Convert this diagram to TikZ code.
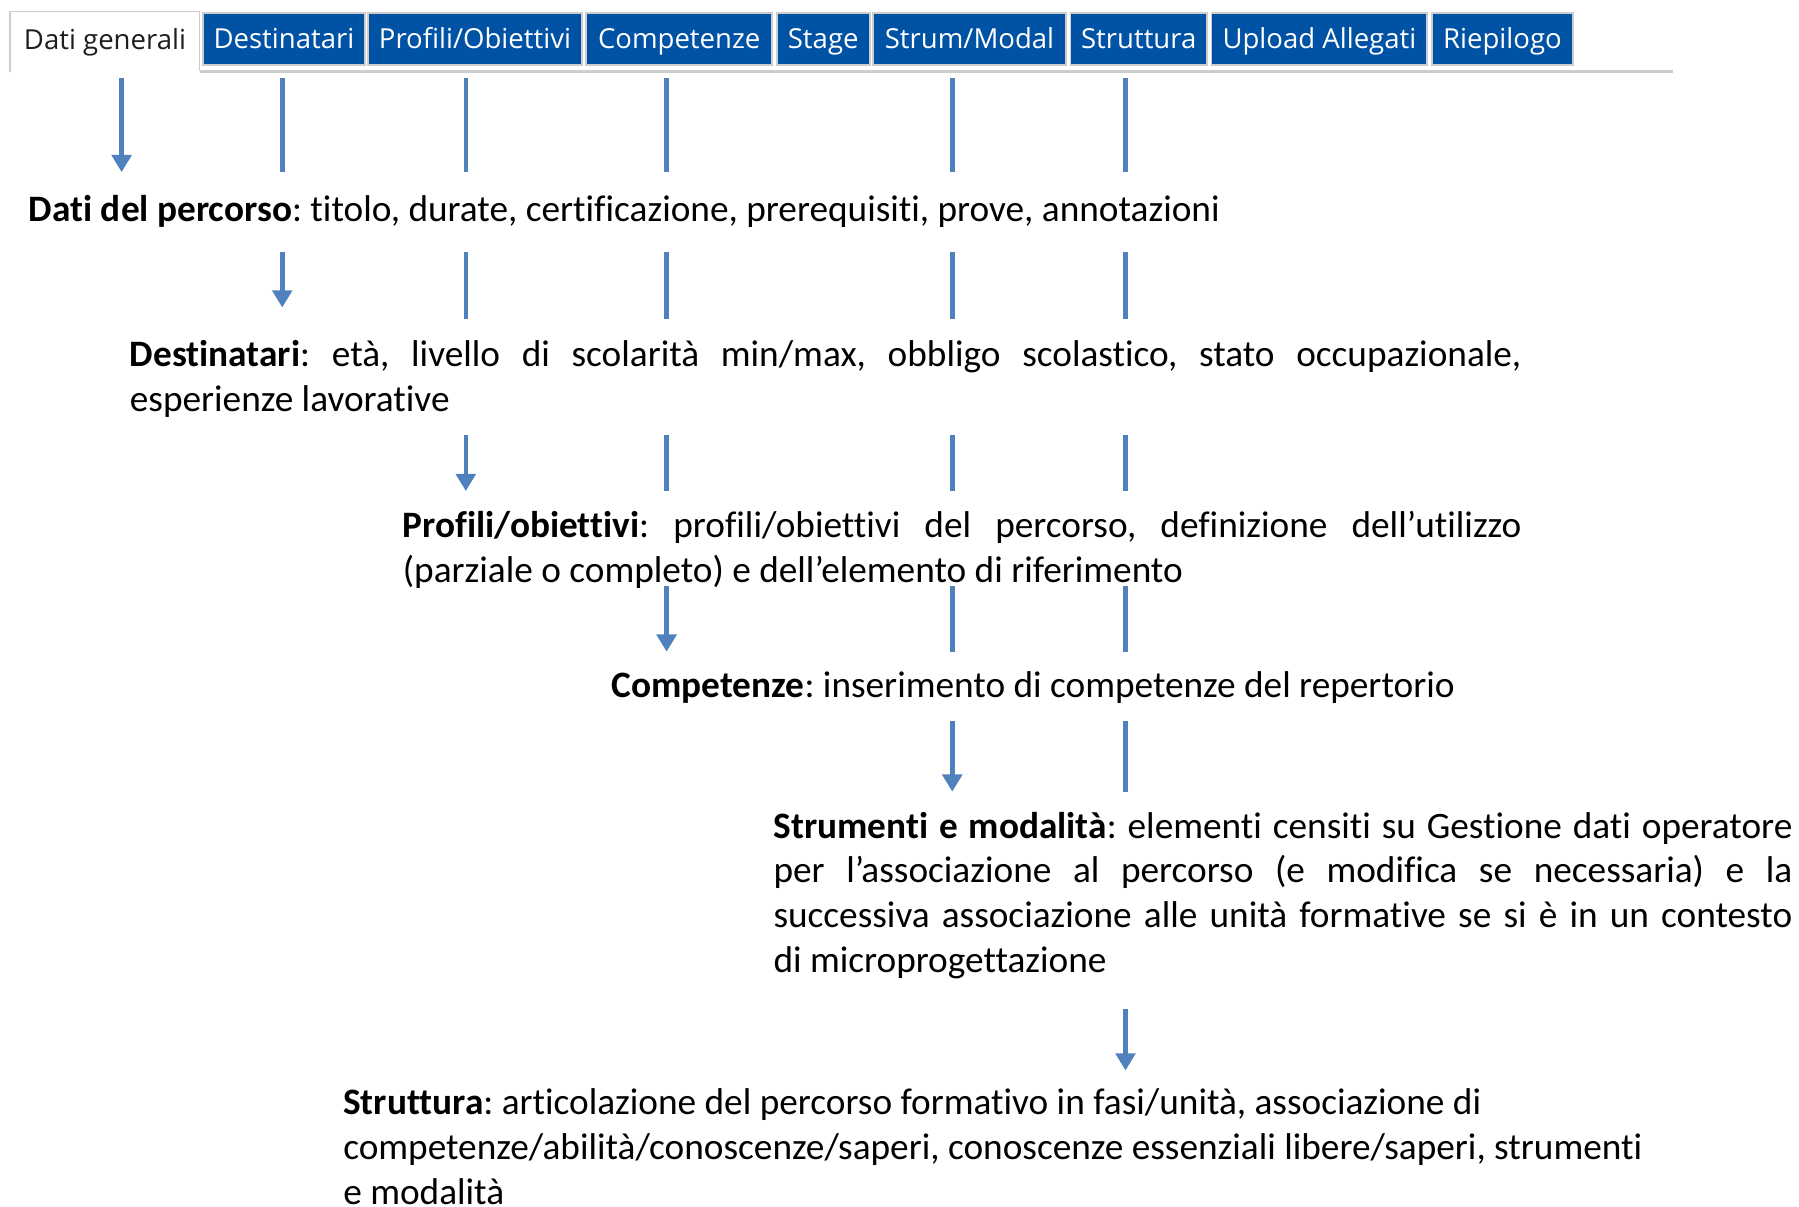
\documentclass[tikz,border=0pt]{standalone}
\usepackage{fontspec}
\setmainfont{Carlito}[Ligatures=NoCommon]
\newfontfamily\tabfont{Open Sans}
\usetikzlibrary{arrows.meta}
\definecolor{tabblue}{RGB}{0,82,164}
\definecolor{tabgray}{RGB}{205,205,205}
\definecolor{connblue}{RGB}{79,129,189}
\definecolor{tabtext}{RGB}{30,30,30}
\begin{document}
\frenchspacing
\begin{tikzpicture}[x=1pt,y=-1pt,
  tabb/.style={rectangle, fill=tabblue, draw=tabgray, line width=1.5pt, text=white,
    font=\tabfont\fontsize{24}{28}\selectfont, inner sep=0pt, minimum height=45pt,
    text height=16pt, text depth=0pt},
  tabact/.style={rectangle, fill=white, text=tabtext,
    font=\tabfont\fontsize{24}{28}\selectfont, inner sep=0pt, minimum height=45pt,
    text height=16pt, text depth=0pt},
  tabborder/.style={draw=tabgray, line width=1.5pt},
  tabbase/.style={draw=tabgray, line width=2.5pt},
  para/.style={anchor=base west, inner sep=0pt, align=left, font=\fontsize{32.5}{39.2}\selectfont},
  connline/.style={draw=connblue, line width=4pt},
  connarrow/.style={connline, -{Triangle[width=17pt,length=15pt]}}
]
\useasboundingbox (0,0) rectangle (1568,1052);

% ---------- tabs ----------
\node[tabact, minimum width=165pt] (t1) at (91.5,35) {Dati generali};
\node[tabb, minimum width=141pt] (t2) at (247.5,34) {Destinatari};
\node[tabb, minimum width=186pt] (t3) at (414,34) {Profili/Obiettivi};
\node[tabb, minimum width=162pt] (t4) at (592,34) {Competenze};
\node[tabb, minimum width=81pt]  (t5) at (717.5,34) {Stage};
\node[tabb, minimum width=168pt] (t6) at (845,34) {Strum/Modal};
\node[tabb, minimum width=119pt] (t7) at (992.5,34) {Struttura};
\node[tabb, minimum width=188pt] (t8) at (1150,34) {Upload Allegati};
\node[tabb, minimum width=123pt] (t9) at (1309.5,34) {Riepilogo};
\draw[tabborder] (9,63) -- (9,10) -- (174,10) -- (174,62);
\coordinate (baseend) at (1458,62);
\draw[tabbase] (174,62) -- (baseend);

% ---------- texts (base anchor = last line's baseline) ----------
\node[para] (dati) at (25,193) {\textbf{Dati del percorso}: titolo, durate, certificazione, prerequisiti, prove, annotazioni};
\node[para] (dest) at (113,359) {\makebox[1213pt][s]{\textbf{Destinatari}: età, livello di scolarità min/max, obbligo scolastico, stato occupazionale,}\\esperienze lavorative};
\node[para] (prof) at (351,507.5) {\makebox[975pt][s]{\textbf{Profili/obiettivi}: profili/obiettivi del percorso, definizione dell’utilizzo}\\(parziale o completo) e dell’elemento di riferimento};
\node[para] (comp) at (533,608) {\textbf{Competenze}: inserimento di competenze del repertorio};
\node[para] (strum) at (674,848) {\makebox[888pt][s]{\textbf{Strumenti e modalità}: elementi censiti su Gestione dati operatore}\\\makebox[888pt][s]{per l’associazione al percorso (e modifica se necessaria) e la}\\\makebox[888pt][s]{successiva associazione alle unità formative se si è in un contesto}\\di microprogettazione};
\node[para] (strut) at (299,1050) {\textbf{Struttura}: articolazione del percorso formativo in fasi/unità, associazione di\\competenze/abilità/conoscenze/saperi, conoscenze essenziali libere/saperi, strumenti\\e modalità};

% ---------- connector columns and rows ----------
\coordinate (c1) at (106,0);
\coordinate (c2) at (246,0);
\coordinate (c3) at (406,0);
\coordinate (c4) at (581,0);
\coordinate (c5) at (830,0);
\coordinate (c6) at (981,0);
\coordinate (r1s) at (0,68);  \coordinate (r1e) at (0,150);
\coordinate (r2s) at (0,220); \coordinate (r2e) at (0,278); \coordinate (r2a) at (0,268);
\coordinate (r3s) at (0,379); \coordinate (r3e) at (0,428);
\coordinate (r4s) at (0,511); \coordinate (r4e) at (0,568);
\coordinate (r5s) at (0,628); \coordinate (r5e) at (0,690);
\coordinate (r6s) at (0,879); \coordinate (r6e) at (0,933);

% row 1
\draw[connarrow] (c1 |- r1s) -- (c1 |- r1e);
\foreach \c in {c2,c3,c4,c5,c6} \draw[connline] (\c |- r1s) -- (\c |- r1e);
% row 2
\draw[connarrow] (c2 |- r2s) -- (c2 |- r2a);
\foreach \c in {c3,c4,c5,c6} \draw[connline] (\c |- r2s) -- (\c |- r2e);
% row 3
\draw[connarrow] (c3 |- r3s) -- (c3 |- r3e);
\foreach \c in {c4,c5,c6} \draw[connline] (\c |- r3s) -- (\c |- r3e);
% row 4
\draw[connarrow] (c4 |- r4s) -- (c4 |- r4e);
\foreach \c in {c5,c6} \draw[connline] (\c |- r4s) -- (\c |- r4e);
% row 5
\draw[connarrow] (c5 |- r5s) -- (c5 |- r5e);
\draw[connline] (c6 |- r5s) -- (c6 |- r5e);
% row 6
\draw[connarrow] (c6 |- r6s) -- (c6 |- r6e);
\end{tikzpicture}
\end{document}
